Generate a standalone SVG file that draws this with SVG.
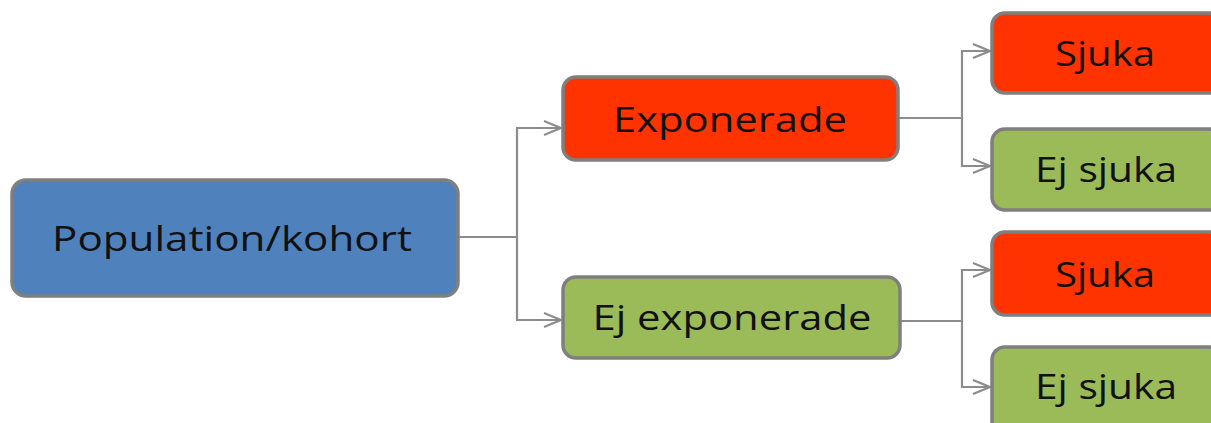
<svg xmlns="http://www.w3.org/2000/svg" width="1211" height="423" viewBox="0 0 1211 423">
<defs>
<style>
.box{stroke:#7f7f7f;stroke-width:3.5}
.blue{fill:#4f81bd}
.red{fill:#ff3300}
.green{fill:#9bbb59}
.lbl{font-family:"Open Sans","Liberation Sans",sans-serif;font-size:35px;fill:#111;text-anchor:middle}
.con{fill:none;stroke:#8c8c8c;stroke-width:2.2}
</style>
<marker id="arr" viewBox="0 0 20 20" refX="19" refY="10" markerWidth="20" markerHeight="20" markerUnits="userSpaceOnUse" orient="auto">
<path d="M2,3 L19,10 L2,17" fill="none" stroke="#8c8c8c" stroke-width="2.2"/>
</marker>
</defs>
<rect width="1211" height="423" fill="#fff"/>
<g id="connectors">
<path class="con" d="M458,237 H517 V128 H561" marker-end="url(#arr)"/>
<path class="con" d="M517,237 V320 H561" marker-end="url(#arr)"/>
<path class="con" d="M898,118 H962 V51 H990" marker-end="url(#arr)"/>
<path class="con" d="M962,118 V166 H990" marker-end="url(#arr)"/>
<path class="con" d="M900,321 H962 V270 H990" marker-end="url(#arr)"/>
<path class="con" d="M962,321 V387 H990" marker-end="url(#arr)"/>
</g>
<g id="population">
<rect class="box blue" x="12" y="180" width="446" height="116" rx="14"/>
<text class="lbl" x="232" y="251" textLength="360" lengthAdjust="spacingAndGlyphs">Population/kohort</text>
</g>
<g id="exponerade">
<rect class="box red" x="563" y="77" width="335" height="83" rx="13"/>
<text class="lbl" x="730" y="132" textLength="234" lengthAdjust="spacingAndGlyphs">Exponerade</text>
</g>
<g id="ej-exponerade">
<rect class="box green" x="563" y="277" width="337" height="81" rx="13"/>
<text class="lbl" x="732" y="330" textLength="279" lengthAdjust="spacingAndGlyphs">Ej exponerade</text>
</g>
<g id="sjuka1">
<rect class="box red" x="992" y="13" width="230" height="80" rx="13"/>
<text class="lbl" x="1105" y="66" textLength="100" lengthAdjust="spacingAndGlyphs">Sjuka</text>
</g>
<g id="ejsjuka1">
<rect class="box green" x="992" y="129" width="230" height="81" rx="13"/>
<text class="lbl" x="1106" y="182" textLength="142" lengthAdjust="spacingAndGlyphs">Ej sjuka</text>
</g>
<g id="sjuka2">
<rect class="box red" x="992" y="232" width="230" height="83" rx="13"/>
<text class="lbl" x="1105" y="287" textLength="100" lengthAdjust="spacingAndGlyphs">Sjuka</text>
</g>
<g id="ejsjuka2">
<rect class="box green" x="992" y="347" width="230" height="90" rx="13"/>
<text class="lbl" x="1106" y="399" textLength="142" lengthAdjust="spacingAndGlyphs">Ej sjuka</text>
</g>
</svg>
